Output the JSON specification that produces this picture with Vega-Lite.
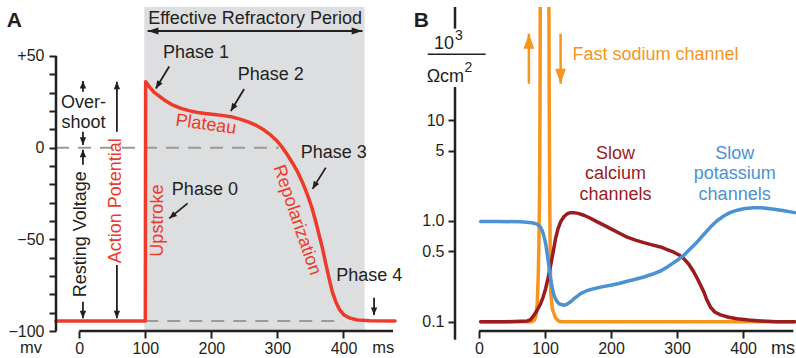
{
  "$schema": "https://vega.github.io/schema/vega-lite/v6.json",
  "padding": {"left": 6, "top": 5, "right": 0, "bottom": 0},
  "background": "white",
  "bounds": "flush",
  "spacing": 60,
  "config": {
    "font": "Liberation Sans",
    "view": {"stroke": null},
    "axis": {"domain": false, "grid": false, "tickColor": "#231f20", "tickWidth": 2, "tickSize": 7, "labelFontSize": 16, "labelColor": "#231f20", "labelFont": "Liberation Sans", "labelOverlap": false, "labelFlush": false}
  },
  "hconcat": [
    {
      "width": 339,
      "height": 324,
      "resolve": {"axis": {"y": "independent"}},
      "layer": [
        {
          "data": {"values": [{"from": 98.5, "to": 432}]},
          "mark": {"type": "rect", "color": "#dddee0"},
          "encoding": {
            "x": {"field": "from", "type": "quantitative", "scale": {"domain": [-35.2, 478], "nice": false, "zero": false}},
            "x2": {"field": "to"},
            "y": {"datum": -100, "type": "quantitative", "scale": {"domain": [-100, 76.7], "nice": false, "zero": false}, "axis": null},
            "y2": {"datum": 76.7}
          }
        },
        {
          "data": {"values": [{"from": -35.2, "to": 302, "v": 0}, {"from": 100, "to": 400, "v": -94.5}]},
          "mark": {"type": "rule", "color": "#9a9a9a", "strokeWidth": 2, "strokeDash": [13, 9]},
          "encoding": {
            "x": {"field": "from", "type": "quantitative", "scale": {"domain": [-35.2, 478], "nice": false, "zero": false}},
            "x2": {"field": "to"},
            "y": {"field": "v", "type": "quantitative", "scale": {"domain": [-100, 76.7], "nice": false, "zero": false}, "axis": {"orient": "left", "title": null, "values": [-90, -80, -70, -60, -40, -30, -20, -10, 10, 20, 30, 40], "labels": false}}
          }
        },
        {
          "data": {"values": [
            {"t": -35.2, "v": -94.5}, {"t": 100, "v": -94.5}, {"t": 100.5, "v": 36}, {"t": 105.9, "v": 33.3},
            {"t": 113.5, "v": 30.1}, {"t": 128.6, "v": 26.0}, {"t": 140, "v": 23.5}, {"t": 153.9, "v": 21.4},
            {"t": 166, "v": 20.2}, {"t": 179.1, "v": 19.2}, {"t": 191, "v": 18.6}, {"t": 204.2, "v": 18.1},
            {"t": 216, "v": 17.6}, {"t": 229.5, "v": 16.9}, {"t": 242, "v": 15.7}, {"t": 254.8, "v": 14.2},
            {"t": 267, "v": 12.3}, {"t": 279.9, "v": 9.6}, {"t": 290, "v": 6.8}, {"t": 300.2, "v": 3.3},
            {"t": 307.7, "v": 0}, {"t": 315.3, "v": -4.0}, {"t": 323, "v": -8.5}, {"t": 330.4, "v": -13.1},
            {"t": 338, "v": -19}, {"t": 345.5, "v": -25.8}, {"t": 352, "v": -32.5}, {"t": 358.1, "v": -40.4},
            {"t": 363, "v": -47.5}, {"t": 368.2, "v": -54.9}, {"t": 373, "v": -63}, {"t": 378.2, "v": -71.3},
            {"t": 383, "v": -78.5}, {"t": 388.3, "v": -84.0}, {"t": 394, "v": -88.3}, {"t": 400.9, "v": -91.3},
            {"t": 410, "v": -93}, {"t": 421.2, "v": -94.0}, {"t": 440, "v": -94.4}, {"t": 478, "v": -94.5}
          ]},
          "mark": {"type": "line", "color": "#ee3a2a", "strokeWidth": 3.5, "strokeCap": "round", "strokeJoin": "round"},
          "encoding": {
            "x": {"field": "t", "type": "quantitative", "scale": {"domain": [-35.2, 478], "nice": false, "zero": false}, "axis": {"title": null, "values": [0, 100, 200, 300, 400], "labelPadding": 2, "labelOverlap": false, "labelFlush": false}},
            "y": {"field": "v", "type": "quantitative", "scale": {"domain": [-100, 76.7], "nice": false, "zero": false}, "axis": {"orient": "left", "title": null, "values": [-100, -50, 0, 50], "labelPadding": 5, "labelOverlap": false, "labelFlush": false, "labelExpr": "datum.value == 50 ? '+50' : datum.value == 0 ? '0' : datum.value == -50 ? '\u221250' : '\u2212100'"}}
          }
        },
        {
          "data": {"name": "arrowsA", "values": [
            {"x": 5.6, "y": 30.5, "x2": 5.6, "y2": 36.4, "kind": "up"},
            {"x": 5.6, "y": 8.7, "x2": 5.6, "y2": 1.5, "kind": "down"},
            {"x": 5.6, "y": -9.3, "x2": 5.6, "y2": -1.1, "kind": "up"},
            {"x": 5.6, "y": -84, "x2": 5.6, "y2": -93.1, "kind": "down"},
            {"x": 57, "y": 8.7, "x2": 57, "y2": 36, "kind": "up"},
            {"x": 57, "y": -64, "x2": 57, "y2": -93.1, "kind": "down"},
            {"x": 136.2, "y": 44.2, "x2": 116, "y2": 32.3, "kind": "diag"},
            {"x": 249.6, "y": 32, "x2": 229.5, "y2": 20, "kind": "diag"},
            {"x": 373.2, "y": -10.9, "x2": 353.1, "y2": -22.5, "kind": "diag"},
            {"x": 164, "y": -30.4, "x2": 136.2, "y2": -38.6, "kind": "diag0"},
            {"x": 446.3, "y": -81.8, "x2": 446.3, "y2": -91.3, "kind": "down"},
            {"x": 266, "y": 63.6, "x2": 103.5, "y2": 63.6, "kind": "left"},
            {"x": 266, "y": 63.6, "x2": 428.8, "y2": 63.6, "kind": "right"}
          ]},
          "mark": {"type": "rule", "color": "#231f20", "strokeWidth": 1.8},
          "encoding": {
            "x": {"field": "x", "type": "quantitative", "scale": {"domain": [-35.2, 478], "nice": false, "zero": false}},
            "x2": {"field": "x2"},
            "y": {"field": "y", "type": "quantitative", "scale": {"domain": [-100, 76.7], "nice": false, "zero": false}, "axis": null},
            "y2": {"field": "y2"}
          }
        },
        {
          "data": {"name": "arrowsA"},
          "transform": [{"filter": "datum.kind == 'up'"}],
          "mark": {"type": "point", "shape": "M0,0L-0.8,1.9L0.8,1.9Z", "filled": true, "opacity": 1, "color": "#231f20", "size": 64, "angle": 0, "strokeWidth": 0},
          "encoding": {
            "x": {"field": "x2", "type": "quantitative", "scale": {"domain": [-35.2, 478], "nice": false, "zero": false}},
            "y": {"field": "y2", "type": "quantitative", "scale": {"domain": [-100, 76.7], "nice": false, "zero": false}, "axis": null}
          }
        },
        {
          "data": {"name": "arrowsA"},
          "transform": [{"filter": "datum.kind == 'down'"}],
          "mark": {"type": "point", "shape": "M0,0L-0.8,1.9L0.8,1.9Z", "filled": true, "opacity": 1, "color": "#231f20", "size": 64, "angle": 180, "strokeWidth": 0},
          "encoding": {
            "x": {"field": "x2", "type": "quantitative", "scale": {"domain": [-35.2, 478], "nice": false, "zero": false}},
            "y": {"field": "y2", "type": "quantitative", "scale": {"domain": [-100, 76.7], "nice": false, "zero": false}, "axis": null}
          }
        },
        {
          "data": {"name": "arrowsA"},
          "transform": [{"filter": "datum.kind == 'diag'"}],
          "mark": {"type": "point", "shape": "M0,0L-0.8,1.9L0.8,1.9Z", "filled": true, "opacity": 1, "color": "#231f20", "size": 64, "angle": 211.5, "strokeWidth": 0},
          "encoding": {
            "x": {"field": "x2", "type": "quantitative", "scale": {"domain": [-35.2, 478], "nice": false, "zero": false}},
            "y": {"field": "y2", "type": "quantitative", "scale": {"domain": [-100, 76.7], "nice": false, "zero": false}, "axis": null}
          }
        },
        {
          "data": {"name": "arrowsA"},
          "transform": [{"filter": "datum.kind == 'diag0'"}],
          "mark": {"type": "point", "shape": "M0,0L-0.8,1.9L0.8,1.9Z", "filled": true, "opacity": 1, "color": "#231f20", "size": 64, "angle": 231, "strokeWidth": 0},
          "encoding": {
            "x": {"field": "x2", "type": "quantitative", "scale": {"domain": [-35.2, 478], "nice": false, "zero": false}},
            "y": {"field": "y2", "type": "quantitative", "scale": {"domain": [-100, 76.7], "nice": false, "zero": false}, "axis": null}
          }
        },
        {
          "data": {"name": "arrowsA"},
          "transform": [{"filter": "datum.kind == 'left'"}],
          "mark": {"type": "point", "shape": "M0,0L-0.85,2.7L0.85,2.7Z", "filled": true, "opacity": 1, "color": "#231f20", "size": 64, "angle": 270, "strokeWidth": 0},
          "encoding": {
            "x": {"field": "x2", "type": "quantitative", "scale": {"domain": [-35.2, 478], "nice": false, "zero": false}},
            "y": {"field": "y2", "type": "quantitative", "scale": {"domain": [-100, 76.7], "nice": false, "zero": false}, "axis": null}
          }
        },
        {
          "data": {"name": "arrowsA"},
          "transform": [{"filter": "datum.kind == 'right'"}],
          "mark": {"type": "point", "shape": "M0,0L-0.85,2.7L0.85,2.7Z", "filled": true, "opacity": 1, "color": "#231f20", "size": 64, "angle": 90, "strokeWidth": 0},
          "encoding": {
            "x": {"field": "x2", "type": "quantitative", "scale": {"domain": [-35.2, 478], "nice": false, "zero": false}},
            "y": {"field": "y2", "type": "quantitative", "scale": {"domain": [-100, 76.7], "nice": false, "zero": false}, "axis": null}
          }
        },
        {
          "data": {"values": [
            {"lab": "Phase 1", "x": 176.6, "y": 51.4},
            {"lab": "Phase 2", "x": 290, "y": 39.6},
            {"lab": "Phase 3", "x": 385.3, "y": -3.1},
            {"lab": "Phase 0", "x": 190.2, "y": -23.1},
            {"lab": "Phase 4", "x": 439, "y": -70},
            {"lab": "Effective Refractory Period", "x": 266.1, "y": 70.1}
          ]},
          "mark": {"type": "text", "fontSize": 18, "color": "#231f20", "align": "center", "baseline": "middle"},
          "encoding": {
            "x": {"field": "x", "type": "quantitative", "scale": {"domain": [-35.2, 478], "nice": false, "zero": false}},
            "y": {"field": "y", "type": "quantitative", "scale": {"domain": [-100, 76.7], "nice": false, "zero": false}, "axis": null},
            "text": {"field": "lab", "type": "nominal"}
          }
        },
        {
          "data": {"values": [{}]},
          "mark": {"type": "text", "fontSize": 18, "color": "#231f20", "align": "center", "baseline": "middle", "lineHeight": 20},
          "encoding": {
            "x": {"datum": 6.4, "type": "quantitative", "scale": {"domain": [-35.2, 478], "nice": false, "zero": false}},
            "y": {"datum": 24.1, "type": "quantitative", "scale": {"domain": [-100, 76.7], "nice": false, "zero": false}, "axis": null},
            "text": {"value": ["Over-", "shoot"]}
          }
        },
        {
          "data": {"values": [{"lab": "Resting Voltage", "x": 2.6, "y": -47.2}]},
          "mark": {"type": "text", "fontSize": 18, "color": "#231f20", "align": "center", "baseline": "middle", "angle": 270},
          "encoding": {
            "x": {"field": "x", "type": "quantitative", "scale": {"domain": [-35.2, 478], "nice": false, "zero": false}},
            "y": {"field": "y", "type": "quantitative", "scale": {"domain": [-100, 76.7], "nice": false, "zero": false}, "axis": null},
            "text": {"field": "lab", "type": "nominal"}
          }
        },
        {
          "data": {"values": [{"lab": "Action Potential", "x": 55.5, "y": -29}, {"lab": "Upstroke", "x": 118.6, "y": -39.8}]},
          "mark": {"type": "text", "fontSize": 18, "color": "#ee3a2a", "align": "center", "baseline": "middle", "angle": 270},
          "encoding": {
            "x": {"field": "x", "type": "quantitative", "scale": {"domain": [-35.2, 478], "nice": false, "zero": false}},
            "y": {"field": "y", "type": "quantitative", "scale": {"domain": [-100, 76.7], "nice": false, "zero": false}, "axis": null},
            "text": {"field": "lab", "type": "nominal"}
          }
        },
        {
          "data": {"values": [{"lab": "Plateau", "x": 191.7, "y": 12.5}]},
          "mark": {"type": "text", "fontSize": 18, "color": "#ee3a2a", "align": "center", "baseline": "middle", "angle": 8},
          "encoding": {
            "x": {"field": "x", "type": "quantitative", "scale": {"domain": [-35.2, 478], "nice": false, "zero": false}},
            "y": {"field": "y", "type": "quantitative", "scale": {"domain": [-100, 76.7], "nice": false, "zero": false}, "axis": null},
            "text": {"field": "lab", "type": "nominal"}
          }
        },
        {
          "data": {"values": [{"lab": "Repolarization", "x": 329.1, "y": -39.5}]},
          "mark": {"type": "text", "fontSize": 18, "color": "#ee3a2a", "align": "center", "baseline": "middle", "angle": 71},
          "encoding": {
            "x": {"field": "x", "type": "quantitative", "scale": {"domain": [-35.2, 478], "nice": false, "zero": false}},
            "y": {"field": "y", "type": "quantitative", "scale": {"domain": [-100, 76.7], "nice": false, "zero": false}, "axis": null},
            "text": {"field": "lab", "type": "nominal"}
          }
        },
        {
          "data": {"values": [{"lab": "A", "x": -98.3, "y": 69.1}]},
          "mark": {"type": "text", "fontSize": 21, "fontWeight": "bold", "color": "#231f20", "align": "center", "baseline": "middle"},
          "encoding": {
            "x": {"field": "x", "type": "quantitative", "scale": {"domain": [-35.2, 478], "nice": false, "zero": false}},
            "y": {"field": "y", "type": "quantitative", "scale": {"domain": [-100, 76.7], "nice": false, "zero": false}, "axis": null},
            "text": {"field": "lab", "type": "nominal"}
          }
        },
        {
          "data": {"values": [{"lab": "mv", "x": -73, "y": -112}, {"lab": "ms", "x": 460.2, "y": -112}]},
          "mark": {"type": "text", "fontSize": 16.5, "color": "#231f20", "align": "center", "baseline": "alphabetic"},
          "encoding": {
            "x": {"field": "x", "type": "quantitative", "scale": {"domain": [-35.2, 478], "nice": false, "zero": false}},
            "y": {"field": "y", "type": "quantitative", "scale": {"domain": [-100, 76.7], "nice": false, "zero": false}, "axis": null},
            "text": {"field": "lab", "type": "nominal"}
          }
        },
        {
          "data": {"values": [{"lo": -100, "hi": 50}]},
          "mark": {"type": "rule", "color": "#231f20", "strokeWidth": 2.5},
          "encoding": {
            "x": {"datum": -35.2, "type": "quantitative", "scale": {"domain": [-35.2, 478], "nice": false, "zero": false}},
            "y": {"field": "lo", "type": "quantitative", "scale": {"domain": [-100, 76.7], "nice": false, "zero": false}, "axis": null},
            "y2": {"field": "hi"}
          }
        },
        {
          "data": {"values": [{"from": 0, "to": 475}]},
          "mark": {"type": "rule", "color": "#231f20", "strokeWidth": 2.5},
          "encoding": {
            "x": {"field": "from", "type": "quantitative", "scale": {"domain": [-35.2, 478], "nice": false, "zero": false}},
            "x2": {"field": "to"},
            "y": {"datum": -100, "type": "quantitative", "scale": {"domain": [-100, 76.7], "nice": false, "zero": false}, "axis": null}
          }
        }
      ]
    },
    {
      "width": 341,
      "height": 324,
      "layer": [
        {
          "data": {"values": [
            {"t": 2.6, "g": 0.1}, {"t": 80, "g": 0.1}, {"t": 84, "g": 0.104}, {"t": 86.5, "g": 0.115},
            {"t": 88.3, "g": 0.157}, {"t": 89.8, "g": 0.29}, {"t": 90.8, "g": 0.62}, {"t": 91.8, "g": 2},
            {"t": 92.5, "g": 20}, {"t": 93, "g": 1000}, {"t": 105.5, "g": 1000}, {"t": 106.3, "g": 20},
            {"t": 107, "g": 2}, {"t": 107.8, "g": 0.5}, {"t": 108.5, "g": 0.2}, {"t": 111, "g": 0.135},
            {"t": 116, "g": 0.109}, {"t": 121, "g": 0.101}, {"t": 126, "g": 0.1}, {"t": 478, "g": 0.1}
          ]},
          "mark": {"type": "line", "color": "#f7941d", "strokeWidth": 3.5, "strokeCap": "round", "strokeJoin": "round", "clip": true},
          "encoding": {
            "x": {"field": "t", "type": "quantitative", "scale": {"domain": [-36.3, 480], "nice": false, "zero": false}, "axis": {"title": null, "values": [0, 100, 200, 300, 400], "labelPadding": 2, "labelOverlap": false, "labelFlush": false}},
            "y": {"field": "g", "type": "quantitative", "scale": {"type": "log", "domain": [0.081, 132.7], "nice": false}, "axis": {"title": null, "values": [0.1, 0.5, 1, 5, 10], "labelPadding": 4, "labelOverlap": false, "labelFlush": false, "labelExpr": "datum.value == 1 ? '1.0' : datum.value == 0.1 ? '0.1' : datum.value == 0.5 ? '0.5' : datum.value == 5 ? '5' : '10'"}}
          }
        },
        {
          "data": {"values": [
            {"t": 2.6, "g": 0.1}, {"t": 40, "g": 0.1}, {"t": 73.2, "g": 0.102}, {"t": 78, "g": 0.105},
            {"t": 83.2, "g": 0.116}, {"t": 88, "g": 0.13}, {"t": 93.3, "g": 0.151}, {"t": 97, "g": 0.175},
            {"t": 100.9, "g": 0.213}, {"t": 104.5, "g": 0.27}, {"t": 108.5, "g": 0.363}, {"t": 112, "g": 0.48},
            {"t": 116, "g": 0.67}, {"t": 119.5, "g": 0.83}, {"t": 123.6, "g": 0.98}, {"t": 128.5, "g": 1.1},
            {"t": 133.7, "g": 1.18}, {"t": 138.7, "g": 1.21}, {"t": 143.7, "g": 1.21}, {"t": 150, "g": 1.19},
            {"t": 158.9, "g": 1.14}, {"t": 168, "g": 1.07}, {"t": 179.1, "g": 0.98}, {"t": 189, "g": 0.91},
            {"t": 199.2, "g": 0.84}, {"t": 212, "g": 0.76}, {"t": 224.5, "g": 0.69}, {"t": 237, "g": 0.645},
            {"t": 249.6, "g": 0.61}, {"t": 262, "g": 0.58}, {"t": 274.9, "g": 0.552}, {"t": 285, "g": 0.52},
            {"t": 295, "g": 0.49}, {"t": 303, "g": 0.46}, {"t": 310.1, "g": 0.423}, {"t": 318, "g": 0.37},
            {"t": 325.3, "g": 0.312}, {"t": 333, "g": 0.25}, {"t": 340.4, "g": 0.198}, {"t": 345, "g": 0.165},
            {"t": 350.5, "g": 0.14}, {"t": 357, "g": 0.125}, {"t": 365.7, "g": 0.117}, {"t": 378, "g": 0.111},
            {"t": 390.9, "g": 0.107}, {"t": 408, "g": 0.104}, {"t": 426, "g": 0.102}, {"t": 450, "g": 0.1},
            {"t": 478, "g": 0.1}
          ]},
          "mark": {"type": "line", "color": "#9b1c1f", "strokeWidth": 3.5, "strokeCap": "round", "strokeJoin": "round"},
          "encoding": {
            "x": {"field": "t", "type": "quantitative", "scale": {"domain": [-36.3, 480], "nice": false, "zero": false}},
            "y": {"field": "g", "type": "quantitative", "scale": {"type": "log", "domain": [0.081, 132.7], "nice": false}}
          }
        },
        {
          "data": {"values": [
            {"t": 2.6, "g": 0.99}, {"t": 30, "g": 0.99}, {"t": 63, "g": 0.98}, {"t": 80, "g": 0.96},
            {"t": 88.3, "g": 0.93}, {"t": 93, "g": 0.87}, {"t": 95.9, "g": 0.8}, {"t": 98.5, "g": 0.7},
            {"t": 100.9, "g": 0.6}, {"t": 102.7, "g": 0.5}, {"t": 104.4, "g": 0.42}, {"t": 106.5, "g": 0.33},
            {"t": 108.5, "g": 0.268}, {"t": 111, "g": 0.215}, {"t": 113.5, "g": 0.183}, {"t": 117, "g": 0.163},
            {"t": 121, "g": 0.151}, {"t": 128.6, "g": 0.146}, {"t": 133, "g": 0.149}, {"t": 138.7, "g": 0.158},
            {"t": 145, "g": 0.172}, {"t": 153.9, "g": 0.19}, {"t": 163, "g": 0.203}, {"t": 174, "g": 0.213},
            {"t": 186, "g": 0.222}, {"t": 199.2, "g": 0.23}, {"t": 212, "g": 0.24}, {"t": 224.5, "g": 0.252},
            {"t": 237, "g": 0.264}, {"t": 249.6, "g": 0.278}, {"t": 262, "g": 0.296}, {"t": 274.9, "g": 0.319},
            {"t": 285, "g": 0.35}, {"t": 295, "g": 0.386}, {"t": 303, "g": 0.42}, {"t": 310.1, "g": 0.456},
            {"t": 320, "g": 0.53}, {"t": 330.4, "g": 0.62}, {"t": 340, "g": 0.73}, {"t": 350.5, "g": 0.87},
            {"t": 360, "g": 1.0}, {"t": 370.7, "g": 1.12}, {"t": 380, "g": 1.21}, {"t": 390.9, "g": 1.28},
            {"t": 403, "g": 1.33}, {"t": 416, "g": 1.35}, {"t": 428, "g": 1.35}, {"t": 441.3, "g": 1.32},
            {"t": 460, "g": 1.27}, {"t": 478, "g": 1.21}
          ]},
          "mark": {"type": "line", "color": "#4a92d2", "strokeWidth": 3.5, "strokeCap": "round", "strokeJoin": "round"},
          "encoding": {
            "x": {"field": "t", "type": "quantitative", "scale": {"domain": [-36.3, 480], "nice": false, "zero": false}},
            "y": {"field": "g", "type": "quantitative", "scale": {"type": "log", "domain": [0.081, 132.7], "nice": false}}
          }
        },
        {
          "data": {"name": "arrowsB", "values": [
            {"x": 75.6, "y": 23.0, "x2": 75.6, "y2": 72.1, "kind": "up"},
            {"x": 123.6, "y": 72.1, "x2": 123.6, "y2": 23.0, "kind": "down"}
          ]},
          "mark": {"type": "rule", "color": "#f7941d", "strokeWidth": 2.5},
          "encoding": {
            "x": {"field": "x", "type": "quantitative", "scale": {"domain": [-36.3, 480], "nice": false, "zero": false}},
            "x2": {"field": "x2"},
            "y": {"field": "y", "type": "quantitative", "scale": {"type": "log", "domain": [0.081, 132.7], "nice": false}},
            "y2": {"field": "y2"}
          }
        },
        {
          "data": {"name": "arrowsB"},
          "transform": [{"filter": "datum.kind == 'up'"}],
          "mark": {"type": "point", "shape": "M0,0L-1.35,3.75L1.35,3.75Z", "filled": true, "opacity": 1, "color": "#f7941d", "size": 64, "angle": 0, "strokeWidth": 0},
          "encoding": {
            "x": {"field": "x2", "type": "quantitative", "scale": {"domain": [-36.3, 480], "nice": false, "zero": false}},
            "y": {"field": "y2", "type": "quantitative", "scale": {"type": "log", "domain": [0.081, 132.7], "nice": false}}
          }
        },
        {
          "data": {"name": "arrowsB"},
          "transform": [{"filter": "datum.kind == 'down'"}],
          "mark": {"type": "point", "shape": "M0,0L-1.35,3.75L1.35,3.75Z", "filled": true, "opacity": 1, "color": "#f7941d", "size": 64, "angle": 180, "strokeWidth": 0},
          "encoding": {
            "x": {"field": "x2", "type": "quantitative", "scale": {"domain": [-36.3, 480], "nice": false, "zero": false}},
            "y": {"field": "y2", "type": "quantitative", "scale": {"type": "log", "domain": [0.081, 132.7], "nice": false}}
          }
        },
        {
          "data": {"values": [{"lab": "Fast sodium channel", "x": 267.3, "y": 44.4}]},
          "mark": {"type": "text", "fontSize": 18, "color": "#f7941d", "align": "center", "baseline": "middle"},
          "encoding": {
            "x": {"field": "x", "type": "quantitative", "scale": {"domain": [-36.3, 480], "nice": false, "zero": false}},
            "y": {"field": "y", "type": "quantitative", "scale": {"type": "log", "domain": [0.081, 132.7], "nice": false}},
            "text": {"field": "lab", "type": "nominal"}
          }
        },
        {
          "data": {"values": [{}]},
          "mark": {"type": "text", "fontSize": 18, "color": "#9b1c1f", "align": "center", "baseline": "middle", "lineHeight": 20.5},
          "encoding": {
            "x": {"datum": 206.8, "type": "quantitative", "scale": {"domain": [-36.3, 480], "nice": false, "zero": false}},
            "y": {"datum": 4.62, "type": "quantitative", "scale": {"type": "log", "domain": [0.081, 132.7], "nice": false}},
            "text": {"value": ["Slow", "calcium", "channels"]}
          }
        },
        {
          "data": {"values": [{}]},
          "mark": {"type": "text", "fontSize": 18, "color": "#4a92d2", "align": "center", "baseline": "middle", "lineHeight": 20.5},
          "encoding": {
            "x": {"datum": 387.1, "type": "quantitative", "scale": {"domain": [-36.3, 480], "nice": false, "zero": false}},
            "y": {"datum": 4.62, "type": "quantitative", "scale": {"type": "log", "domain": [0.081, 132.7], "nice": false}},
            "text": {"value": ["Slow", "potassium", "channels"]}
          }
        },
        {
          "data": {"values": [{"lab": "B", "x": -87.1, "y": 95.3}]},
          "mark": {"type": "text", "fontSize": 21, "fontWeight": "bold", "color": "#231f20", "align": "center", "baseline": "middle"},
          "encoding": {
            "x": {"field": "x", "type": "quantitative", "scale": {"domain": [-36.3, 480], "nice": false, "zero": false}},
            "y": {"field": "y", "type": "quantitative", "scale": {"type": "log", "domain": [0.081, 132.7], "nice": false}},
            "text": {"field": "lab", "type": "nominal"}
          }
        },
        {
          "data": {"values": [{"lab": "10", "x": -53.0, "y": 50.9}, {"lab": "\u03a9cm", "x": -50.9, "y": 23.9}, {"lab": "ms", "x": 460.2, "y": 0.0483}]},
          "mark": {"type": "text", "fontSize": 18, "color": "#231f20", "align": "center", "baseline": "alphabetic"},
          "encoding": {
            "x": {"field": "x", "type": "quantitative", "scale": {"domain": [-36.3, 480], "nice": false, "zero": false}},
            "y": {"field": "y", "type": "quantitative", "scale": {"type": "log", "domain": [0.081, 132.7], "nice": false}},
            "text": {"field": "lab", "type": "nominal"}
          }
        },
        {
          "data": {"values": [{"lab": "3", "x": -30.3, "y": 62.5}, {"lab": "2", "x": -15.9, "y": 30.1}]},
          "mark": {"type": "text", "fontSize": 14, "color": "#231f20", "align": "center", "baseline": "alphabetic"},
          "encoding": {
            "x": {"field": "x", "type": "quantitative", "scale": {"domain": [-36.3, 480], "nice": false, "zero": false}},
            "y": {"field": "y", "type": "quantitative", "scale": {"type": "log", "domain": [0.081, 132.7], "nice": false}},
            "text": {"field": "lab", "type": "nominal"}
          }
        },
        {
          "data": {"values": [{"from": -77.6, "to": 10.1, "v": 45.1}]},
          "mark": {"type": "rule", "color": "#231f20", "strokeWidth": 1.7},
          "encoding": {
            "x": {"field": "from", "type": "quantitative", "scale": {"domain": [-36.3, 480], "nice": false, "zero": false}},
            "x2": {"field": "to"},
            "y": {"field": "v", "type": "quantitative", "scale": {"type": "log", "domain": [0.081, 132.7], "nice": false}}
          }
        },
        {
          "data": {"values": [{"lo": 0.0664, "hi": 21.3}, {"lo": 81, "hi": 132.7}]},
          "mark": {"type": "rule", "color": "#231f20", "strokeWidth": 2.5},
          "encoding": {
            "x": {"datum": -36.3, "type": "quantitative", "scale": {"domain": [-36.3, 480], "nice": false, "zero": false}},
            "y": {"field": "lo", "type": "quantitative", "scale": {"type": "log", "domain": [0.081, 132.7], "nice": false}},
            "y2": {"field": "hi"}
          }
        },
        {
          "data": {"values": [{"from": 0, "to": 476}]},
          "mark": {"type": "rule", "color": "#231f20", "strokeWidth": 2.5},
          "encoding": {
            "x": {"field": "from", "type": "quantitative", "scale": {"domain": [-36.3, 480], "nice": false, "zero": false}},
            "x2": {"field": "to"},
            "y": {"datum": 0.081, "type": "quantitative", "scale": {"type": "log", "domain": [0.081, 132.7], "nice": false}}
          }
        }
      ]
    }
  ]
}
